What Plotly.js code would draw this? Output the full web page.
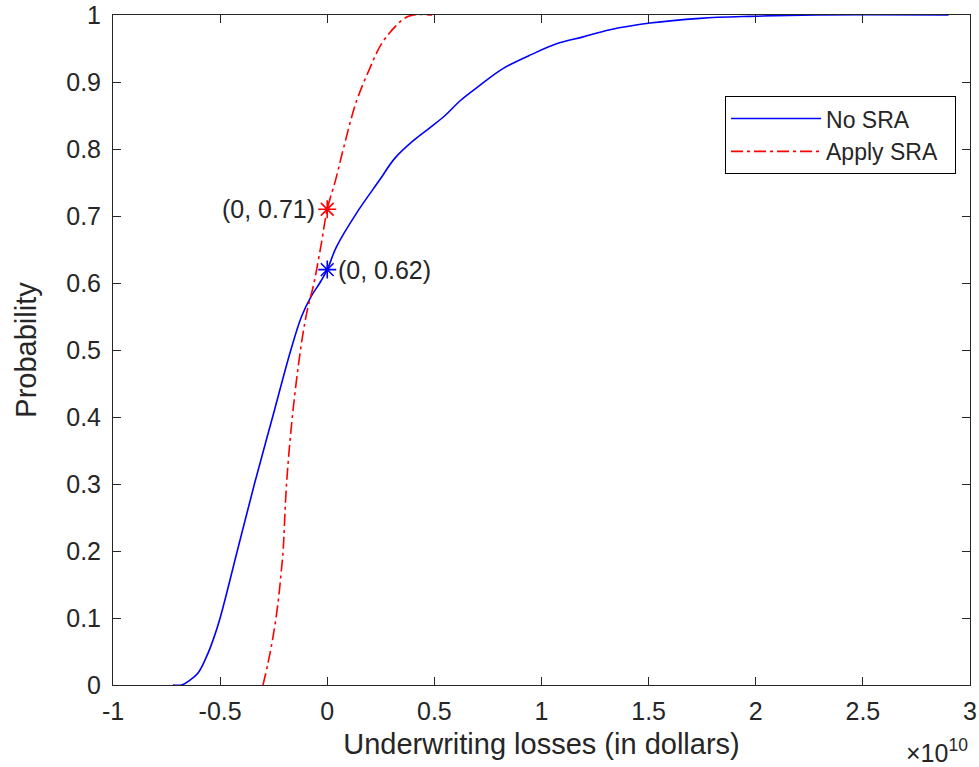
<!DOCTYPE html>
<html>
<head>
<meta charset="utf-8">
<script src="https://cdn.plot.ly/plotly-3.0.1.min.js"></script>
<style>html,body{margin:0;padding:0;background:#fff}#chart{width:979px;height:767px}</style>
</head>
<body>
<div id="chart"></div>
<script>
// Values in units of 1e10 dollars
const noSraX = [-0.72,-0.68,-0.642,-0.603,-0.564,-0.533,-0.50,-0.42,-0.34,-0.255,-0.17,-0.12,-0.075,-0.035,0,0.043,0.136,0.245,0.315,0.40,0.48,0.55,0.62,0.712,0.82,0.96,1.07,1.19,1.32,1.506,1.74,1.97,2.28,2.9];
const noSraY = [0,0,0.007,0.018,0.042,0.067,0.10,0.2,0.3,0.4,0.5,0.55,0.58,0.60,0.62,0.654,0.704,0.754,0.786,0.812,0.832,0.85,0.872,0.895,0.92,0.942,0.957,0.967,0.978,0.988,0.995,0.998,1.0,1.0];

const sraX = [-0.30,-0.277,-0.253,-0.23,-0.214,-0.206,-0.19,-0.163,-0.125,-0.096,-0.062,-0.027,0,0.04,0.075,0.135,0.198,0.253,0.318,0.36,0.40,0.49];
const sraY = [0,0.032,0.072,0.122,0.172,0.2,0.3,0.4,0.5,0.555,0.6,0.66,0.71,0.755,0.80,0.87,0.92,0.957,0.983,0.995,1.0,1.0];

const markX = [0, 0];
const markY = [0.62, 0.71];
const markLabels = ["(0, 0.62)", "(0, 0.71)"];
const seriesNames = ["No SRA", "Apply SRA"];

const xTickVals = [-1,-0.5,0,0.5,1,1.5,2,2.5,3];
const xTickText = ["-1","-0.5","0","0.5","1","1.5","2","2.5","3"];
const yTickVals = [0,0.1,0.2,0.3,0.4,0.5,0.6,0.7,0.8,0.9,1];
const yTickText = ["0","0.1","0.2","0.3","0.4","0.5","0.6","0.7","0.8","0.9","1"];

const FONT = "Liberation Sans, Arial, Helvetica, sans-serif";
const AX = "#262626";
const PAD = "\u00a0\u00a0";

const traces = [
  {x: noSraX, y: noSraY, mode: "lines", name: seriesNames[0] + PAD,
   line: {color: "#0000ff", width: 1.6, shape: "spline", smoothing: 1}},
  {x: sraX, y: sraY, mode: "lines", name: seriesNames[1] + PAD,
   line: {color: "#ff0000", width: 1.6, dash: "12px,4px,3px,4px", shape: "spline", smoothing: 1}},
  {x: [markX[0]], y: [markY[0]], mode: "markers", showlegend: false,
   marker: {symbol: "asterisk-open", size: 15, color: "#0000ff", line: {color: "#0000ff", width: 1.6}}},
  {x: [markX[1]], y: [markY[1]], mode: "markers", showlegend: false,
   marker: {symbol: "asterisk-open", size: 15, color: "#ff0000", line: {color: "#ff0000", width: 1.6}}}
];

const axisCommon = {
  showgrid: false, zeroline: false, showline: true, linecolor: AX, linewidth: 1,
  mirror: "ticks", ticks: "inside", ticklen: 8, tickcolor: AX, tickwidth: 1,
  tickfont: {family: FONT, size: 25, color: AX}, tickmode: "array"
};

const layout = {
  width: 979, height: 767,
  margin: {l: 113, r: 9, t: 15, b: 82},
  paper_bgcolor: "#ffffff", plot_bgcolor: "#ffffff",
  font: {family: FONT, color: AX},
  showlegend: true,
  legend: {x: 0.9837, y: 0.879, xanchor: "right", yanchor: "top",
    bgcolor: "#ffffff", bordercolor: "#000000", borderwidth: 1,
    font: {family: FONT, size: 23, color: AX}, itemwidth: 90, tracegroupgap: 0},
  xaxis: Object.assign({}, axisCommon, {
    range: [-1, 3], tickvals: xTickVals, ticktext: xTickText, ticklabelstandoff: 4,
    title: {text: "Underwriting losses (in dollars)", font: {family: FONT, size: 29, color: AX}, standoff: 9}
  }),
  yaxis: Object.assign({}, axisCommon, {
    range: [0, 1], tickvals: yTickVals, ticktext: yTickText, ticklabelstandoff: 6,
    title: {text: "Probability", font: {family: FONT, size: 29, color: AX}, standoff: 21}
  }),
  annotations: [
    {xref: "x", yref: "y", x: markX[1], y: markY[1], text: markLabels[1], showarrow: false,
     xanchor: "right", yanchor: "middle", xshift: -10, font: {family: FONT, size: 25, color: AX}},
    {xref: "x", yref: "y", x: markX[0], y: markY[0], text: markLabels[0], showarrow: false,
     xanchor: "left", yanchor: "middle", xshift: 9, font: {family: FONT, size: 25, color: AX}},
    {xref: "paper", yref: "paper", x: 1.0, y: -0.098, xanchor: "right", yanchor: "middle",
     text: "×10<sup>10</sup>", showarrow: false, font: {family: FONT, size: 25, color: AX}}
  ]
};

Plotly.newPlot("chart", traces, layout, {displayModeBar: false, staticPlot: true});
</script>
</body>
</html>
